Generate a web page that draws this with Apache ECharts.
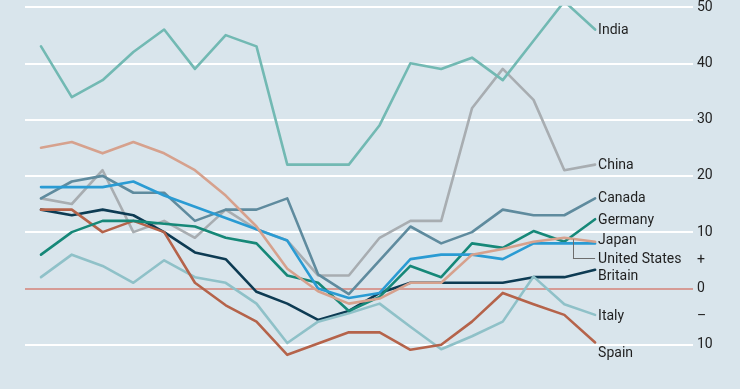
<!DOCTYPE html>
<html>
<head>
<meta charset="utf-8">
<script src="https://cdn.jsdelivr.net/npm/echarts@6/dist/echarts.min.js"></script>
<style>
html,body{margin:0;padding:0;background:#d9e5ec;overflow:hidden;}
#c{width:740px;height:401px;}
</style>
</head>
<body>
<div id="c"></div>
<script>
// Periods (no axis labels shown in the original)
const periods = [0, 1, 2, 3, 4, 5, 6, 7, 8, 9, 10, 11, 12, 13, 14, 15, 16, 17, 18];

// Series values (% change)
const india   = [43, 34, 37, 42, 46, 39, 45, 43, 22, 22, 22, 29, 40, 39, 41, 37, 44, 51, 46];
const china   = [16, 15, 21, 10, 12, 9, 14, 10.5, 8.5, 2.3, 2.3, 9, 12, 12, 32, 39, 33.5, 21, 22];
const canada  = [16, 19, 20, 17, 17, 12, 14, 14, 16, 2.5, -1, 5, 11, 8, 10, 14, 13, 13, 16];
const germany = [6, 10, 12, 12, 11.5, 11, 9, 8, 2.3, 1, -4, -1.5, 4, 2, 8, 7.2, 10.2, 8.3, 12.3];
const japan   = [25, 26, 24, 26, 24, 21, 16.5, 11, 3.5, -0.5, -2.7, -1.8, 1, 1, 6, 7, 8.3, 9, 8.3];
const us      = [18, 18, 18, 19, 16.5, 14.5, 12.5, 10.5, 8.5, 0, -1.7, -0.8, 5.2, 6, 6, 5.2, 8, 8, 8];
const britain = [14, 13, 14, 13, 10, 6.4, 5.2, -0.6, -2.7, -5.6, -4, -0.8, 1, 1, 1, 1, 2, 2, 3.3];
const italy   = [2, 6, 4, 1, 5, 2, 1, -2.7, -9.7, -5.9, -4.4, -2.7, -6.8, -10.8, -8.5, -5.9, 2.1, -2.8, -4.7];
const spain   = [14, 14, 10, 12, 10, 1, -3, -5.9, -11.8, -9.8, -7.8, -7.8, -10.9, -10, -5.9, -0.8, -2.8, -4.7, -9.6];

// Y tick labels (every 5; "+" and "−" mark the half steps)
const tickLabels = {50: '50', 40: '40', 30: '30', 20: '20', 10: '10', 5: '+', 0: '0', '-5': '\u2013', '-10': '10'};

const FONT = 'Roboto';

function pairs(vals) { return periods.map((p, i) => [p, vals[i]]); }

function mk(name, vals, color, dy, extra) {
  const s = {
    name: name,
    type: 'line',
    data: pairs(vals),
    symbol: 'none',
    smooth: false,
    lineStyle: { color: color, width: 2.6, join: 'round', cap: 'round' },
    endLabel: {
      show: true,
      formatter: name,
      distance: 3,
      offset: [0, dy],
      color: '#1f1f1f',
      fontFamily: FONT,
      fontSize: 14
    },
    emphasis: { disabled: true },
    animation: false
  };
  return Object.assign(s, extra || {});
}

const chart = echarts.init(document.getElementById('c'), null, { renderer: 'canvas' });

const series = [
  mk('China', china, '#a8adb1', 1),
  mk('Canada', canada, '#5f8b9e', 0),
  mk('Britain', britain, '#0d3b53', 7),
  mk('Italy', italy, '#8fc1c8', 2),
  mk('Spain', spain, '#b5634a', 11),
  mk('Germany', germany, '#168878', 1),
  mk('United States', us, '#2a9bd3', 16, {
    markLine: {
      silent: true,
      symbol: 'none',
      label: { show: false },
      lineStyle: { color: '#6d6d6d', width: 1, type: 'solid' },
      data: [
        [{ coord: [17.28, 8.7] }, { coord: [17.28, 5.4] }],
        [{ coord: [17.28, 5.4] }, { coord: [18.0, 5.4] }]
      ],
      animation: false
    }
  }),
  mk('Japan', japan, '#d6a18d', -1),
  mk('India', india, '#72b9b3', 1, {
    markLine: {
      silent: true,
      symbol: 'none',
      label: { show: false },
      lineStyle: { color: '#c97a72', width: 1.5, type: 'solid' },
      data: [{ yAxis: 0 }],
      animation: false,
      z: 1
    }
  })
];

chart.setOption({
  backgroundColor: '#d9e5ec',
  animation: false,
  grid: { left: 25, right: 47, top: 2.6, bottom: 0, containLabel: false },
  xAxis: {
    type: 'value',
    min: -0.52,
    max: 21.18,
    show: false
  },
  yAxis: {
    type: 'value',
    position: 'right',
    min: -20,
    max: 50,
    interval: 5,
    axisLine: { show: false },
    axisTick: { show: false },
    splitLine: {
      show: true,
      lineStyle: { color: ['#ffffff', 'rgba(0,0,0,0)'], width: 2 }
    },
    axisLabel: {
      margin: 4,
      color: '#222',
      fontFamily: FONT,
      fontSize: 14,
      formatter: function (v) { return tickLabels[v] !== undefined ? tickLabels[v] : ''; }
    }
  },
  series: series
});
</script>
</body>
</html>
